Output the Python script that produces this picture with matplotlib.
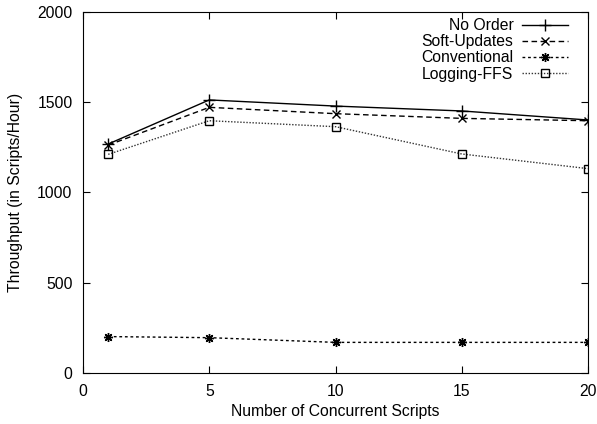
import matplotlib
matplotlib.use('Agg')
import matplotlib.pyplot as plt

plt.rcParams['font.family'] = ['Liberation Sans', 'DejaVu Sans']
plt.rcParams['font.size'] = 11.3

scripts = [1, 5, 10, 15, 20]
no_order = [1268, 1512, 1478, 1451, 1401]
soft_updates = [1262, 1471, 1436, 1410, 1397]
conventional = [203, 197, 171, 171, 171]
logging_ffs = [1211, 1397, 1364, 1213, 1132]

fig = plt.figure(figsize=(5.97, 4.24), dpi=100)
ax = fig.add_axes([0.139, 0.1196, 0.846, 0.8528])

ax.plot(scripts, no_order, color='black', lw=1, marker='+', ms=8, mew=1,
        label='No Order')
ax.plot(scripts, soft_updates, color='black', lw=1, ls=(0, (4, 2.5)),
        marker='x', ms=6, mew=1, label='Soft-Updates')
ax.plot(scripts, conventional, color='black', lw=1, ls=(0, (2, 2)),
        marker=(8, 2, 0), ms=6.5, mew=1, label='Conventional')
ax.plot(scripts, logging_ffs, color='#333333', lw=1, ls=(0, (1, 1.2)),
        marker='s', ms=6, mew=1, mfc='none', mec='black', label='Logging-FFS')

ax.set_xlim(0, 20)
ax.set_ylim(0, 2000)
ax.set_xticks([0, 5, 10, 15, 20])
ax.set_yticks([0, 500, 1000, 1500, 2000])
ax.tick_params(direction='in', length=5, top=True, right=True, pad=7.5)
ax.set_xlabel('Number of Concurrent Scripts', labelpad=4)
ax.set_ylabel('Throughput (in Scripts/Hour)', labelpad=10)

leg = ax.legend(loc='upper right', bbox_to_anchor=(0.960, 0.982),
                frameon=False, markerfirst=False, borderpad=0,
                borderaxespad=0, handlelength=2.9, handletextpad=0.57,
                labelspacing=0.07)
leg._legend_box._children[-1]._children[0].align = 'right'

fig.savefig('out.png', dpi=100)
